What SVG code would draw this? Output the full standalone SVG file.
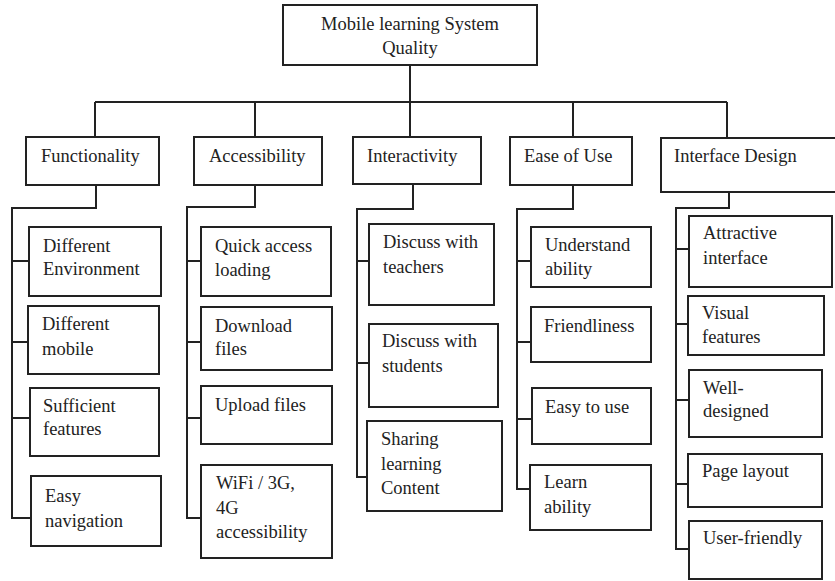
<svg xmlns="http://www.w3.org/2000/svg" width="835" height="581" viewBox="0 0 835 581">
<style>
rect{fill:#fff;stroke:#222;stroke-width:2}
.c path{fill:none;stroke:#222;stroke-width:2}
text{font-family:"Liberation Serif","Times New Roman",serif;font-size:18.5px;fill:#222}
</style>
<rect x="0" y="0" width="835" height="581" style="stroke:none"/>
<g class="c" id="connectors">
<path d="M410 65V102M95 102H727M95 102V137M255 102V137M410 102V137M573 102V137M727 102V137"/>
<path d="M96 185V208H12V518H31M12 261H29M12 342H28M12 418H30"/>
<path d="M255 185V207H187V518H201M187 261H201M187 342H201M187 418H201"/>
<path d="M413 185V209H357V477H367M357 261H369M357 363H369"/>
<path d="M573 185V209H517V489H530M517 261H531M517 342H531M517 419H532"/>
<path d="M729 193V208H676V549H689M676 249H689M676 324H688M676 400H689M676 484H688"/>
</g>
<g id="root"><rect x="283" y="5" width="254" height="60"/><text x="410" y="30" text-anchor="middle">Mobile learning System</text><text x="410" y="54" text-anchor="middle">Quality</text></g>
<g id="functionality"><rect x="26" y="137" width="133" height="48"/><text x="41" y="162">Functionality</text></g>
<g id="accessibility"><rect x="194" y="137" width="128" height="48"/><text x="209" y="162">Accessibility</text></g>
<g id="interactivity"><rect x="353" y="137" width="128" height="47"/><text x="367" y="162">Interactivity</text></g>
<g id="ease-of-use"><rect x="510" y="137" width="122" height="48"/><text x="524" y="162">Ease of Use</text></g>
<g id="interface-design"><rect x="661" y="138" width="180" height="54"/><text x="674" y="162">Interface Design</text></g>

<g id="different-environment"><rect x="29" y="227" width="132" height="69"/><text x="43" y="252">Different</text><text x="43" y="275">Environment</text></g>
<g id="different-mobile"><rect x="28" y="306" width="131" height="68"/><text x="42" y="330">Different</text><text x="42" y="355">mobile</text></g>
<g id="sufficient-features"><rect x="30" y="388" width="129" height="68"/><text x="43" y="412">Sufficient</text><text x="43" y="435">features</text></g>
<g id="easy-navigation"><rect x="31" y="476" width="130" height="70"/><text x="45" y="502">Easy</text><text x="45" y="527">navigation</text></g>

<g id="quick-access"><rect x="201" y="227" width="130" height="69"/><text x="215" y="252">Quick access</text><text x="215" y="276">loading</text></g>
<g id="download-files"><rect x="201" y="307" width="131" height="63"/><text x="215" y="332">Download</text><text x="215" y="355">files</text></g>
<g id="upload-files"><rect x="201" y="386" width="131" height="58"/><text x="215" y="411">Upload files</text></g>
<g id="wifi"><rect x="201" y="465" width="131" height="93"/><text x="216" y="489">WiFi / 3G,</text><text x="216" y="514">4G</text><text x="216" y="538">accessibility</text></g>

<g id="discuss-teachers"><rect x="369" y="224" width="125" height="81"/><text x="383" y="248">Discuss with</text><text x="383" y="273">teachers</text></g>
<g id="discuss-students"><rect x="369" y="324" width="129" height="83"/><text x="382" y="347">Discuss with</text><text x="382" y="372">students</text></g>
<g id="sharing-content"><rect x="367" y="421" width="135" height="90"/><text x="381" y="445">Sharing</text><text x="381" y="470">learning</text><text x="381" y="494">Content</text></g>

<g id="understand-ability"><rect x="531" y="227" width="120" height="60"/><text x="545" y="251">Understand</text><text x="545" y="275">ability</text></g>
<g id="friendliness"><rect x="531" y="307" width="120" height="55"/><text x="544" y="332">Friendliness</text></g>
<g id="easy-to-use"><rect x="532" y="388" width="119" height="56"/><text x="545" y="413">Easy to use</text></g>
<g id="learn-ability"><rect x="530" y="465" width="121" height="65"/><text x="544" y="488">Learn</text><text x="544" y="513">ability</text></g>

<g id="attractive-interface"><rect x="689" y="216" width="143" height="71"/><text x="703" y="239">Attractive</text><text x="703" y="264">interface</text></g>
<g id="visual-features"><rect x="688" y="296" width="136" height="59"/><text x="702" y="319">Visual</text><text x="702" y="343">features</text></g>
<g id="well-designed"><rect x="689" y="370" width="133" height="67"/><text x="703" y="394">Well-</text><text x="703" y="417">designed</text></g>
<g id="page-layout"><rect x="688" y="454" width="134" height="53"/><text x="702" y="477">Page layout</text></g>
<g id="user-friendly"><rect x="689" y="521" width="133" height="58"/><text x="703" y="544">User-friendly</text></g>
</svg>
